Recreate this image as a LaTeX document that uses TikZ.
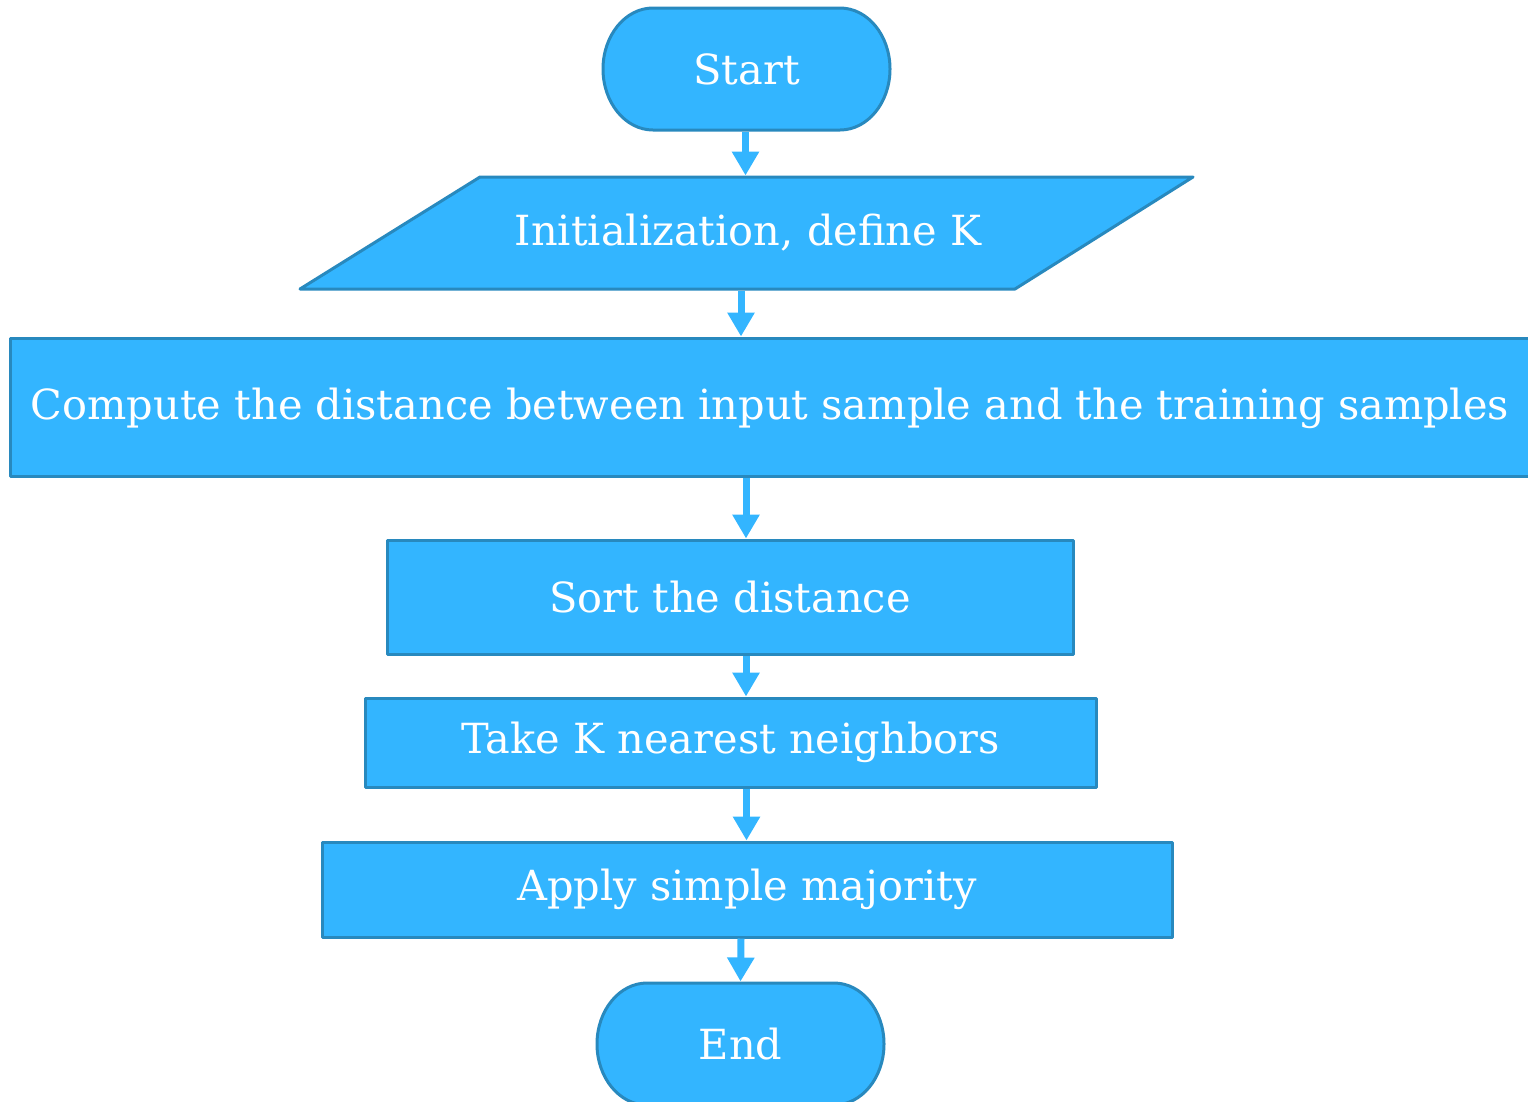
\documentclass[tikz,border=0pt]{standalone}
\usepackage{fontspec}
\setmainfont{DejaVu Serif}
\usepackage{xcolor}
\usepackage{tikz}
\usetikzlibrary{arrows.meta}

\definecolor{boxblue}{RGB}{51,181,255}
\definecolor{edgeblue}{RGB}{40,137,190}

\tikzset{
    shapeline/.style={draw=edgeblue, fill=boxblue, line width=3pt, line join=round},
    flowbox/.style={shapeline, text=white, inner sep=0pt, font=\fontsize{41.5}{47}\selectfont},
    flowlabel/.style={text=white, inner sep=0pt, outer sep=1.5pt, font=\fontsize{41.5}{47}\selectfont},
    flowarrow/.style={draw=boxblue, line width=7pt, -{Triangle[width=26pt,length=24pt]}}
}

\begin{document}
\begin{tikzpicture}[x=1pt,y=-1pt]
        \useasboundingbox (0,0) rectangle (1528,1101);

        % terminals and input shape
        \filldraw[shapeline] (653,8) -- (840,8) arc[start angle=90, end angle=-90, x radius=50pt, y radius=61pt]
            -- (653,130) arc[start angle=270, end angle=90, x radius=50pt, y radius=61pt] -- cycle;
        \filldraw[shapeline] (300,289) -- (480,177) -- (1193,177) -- (1015,289) -- cycle;
        \filldraw[shapeline] (647,983) -- (834,983) arc[start angle=90, end angle=-90, x radius=50pt, y radius=61pt]
            -- (647,1105) arc[start angle=270, end angle=90, x radius=50pt, y radius=61pt] -- cycle;

        % steps
        \node[flowlabel, minimum width=287pt, minimum height=122pt] (start) at (746.5,69) {Start};
        \node[flowlabel, minimum width=535pt, minimum height=112pt] (init) at (748,233) {Initialization, define K};
        \node[flowbox, minimum width=1522pt, minimum height=138pt] (dist) at (771,407) {};
        \node[flowlabel] (distlabel) at (770,408) {Compute the distance between input sample and the training samples};
        \node[flowbox, minimum width=686pt, minimum height=114pt] (sort) at (730,597) {Sort the distance};
        \node[flowbox, minimum width=731pt, minimum height=89pt] (knn) at (730.5,742.5) {Take K nearest neighbors};
        \node[flowbox, minimum width=850pt, minimum height=95pt] (vote) at (747,889.5) {Apply simple majority};
        \node[flowlabel, minimum width=287pt, minimum height=122pt] (end) at (740.5,1044) {End};

        % arrows
        \draw[flowarrow] ([xshift=-1pt]start.south) -- ([xshift=-1pt]start.south |- init.north);
        \draw[flowarrow] ([xshift=-7pt]init.south) -- ([xshift=-7pt]init.south |- dist.north);
        \draw[flowarrow] ([xshift=-25pt]dist.south) -- ([xshift=-25pt]dist.south |- sort.north);
        \draw[flowarrow] ([xshift=16pt]sort.south) -- ([xshift=16pt]sort.south |- knn.north);
        \draw[flowarrow] ([xshift=16pt]knn.south) -- ([xshift=16pt]knn.south |- vote.north);
        \draw[flowarrow] ([xshift=-6pt]vote.south) -- (end.north);
    \end{tikzpicture}
\end{document}
